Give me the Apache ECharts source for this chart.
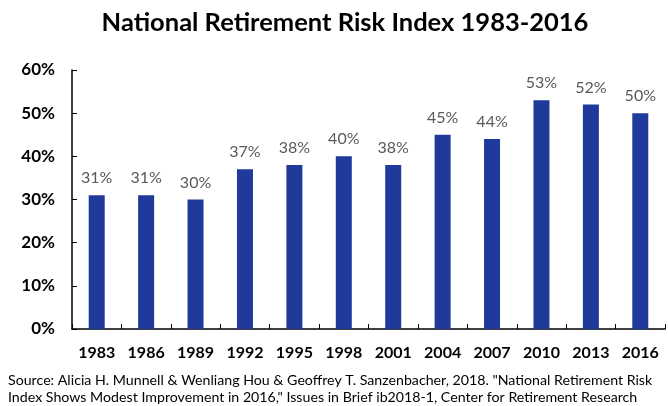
<!DOCTYPE html>
<html><head><meta charset="utf-8">
<script src="https://cdn.jsdelivr.net/npm/echarts@6/dist/echarts.min.js"></script>
<style>html,body{margin:0;padding:0;background:#fff}#c{width:668px;height:406px}</style>
</head><body><div id="c"></div>
<script>
const years = ['1983','1986','1989','1992','1995','1998','2001','2004','2007','2010','2013','2016'];
const riskIndex = [31,31,30,37,38,40,38,45,44,53,52,50];
const titleText = 'National Retirement Risk Index 1983-2016';
const sourceLines = [
  'Source: Alicia H. Munnell & Wenliang Hou & Geoffrey T. Sanzenbacher, 2018. "National Retirement Risk',
  'Index Shows Modest Improvement in 2016," Issues in Brief ib2018-1, Center for Retirement Research'
];
const font = 'Lato, "Open Sans", sans-serif';
const chart = echarts.init(document.getElementById('c'));
chart.setOption({
  animation: false,
  grid: { left: 72, right: 3, top: 70, bottom: 77 },
  xAxis: { type: 'category', data: years,
    axisLine: { lineStyle: { color: '#000', width: 1.5 } },
    axisTick: { show: true, inside: true, length: 5, lineStyle: { color: '#000' } },
    axisLabel: { color: '#000', fontWeight: 'bold', fontSize: 16, fontFamily: font, margin: 16 } },
  yAxis: { type: 'value', min: 0, max: 60, interval: 10,
    axisLine: { show: true, lineStyle: { color: '#000', width: 1.5 } },
    axisTick: { show: true, inside: true, length: 5, lineStyle: { color: '#000' } },
    splitLine: { show: false },
    axisLabel: { formatter: '{value}%', color: '#000', fontWeight: 'bold', fontSize: 17, fontFamily: font, margin: 17 } },
  series: [{ type: 'bar', data: riskIndex, barWidth: 16,
    itemStyle: { color: '#1F3A9A' },
    label: { show: true, position: 'top', distance: 9, formatter: '{c}%', color: '#595959', fontSize: 16, fontFamily: font } }],
  graphic: [
    { type: 'text', x: 345, y: 23,
      style: { text: titleText, textAlign: 'center', textVerticalAlign: 'middle', fontSize: 25.5, fontWeight: 'bold', fontFamily: font, fill: '#000' } }
  ].concat(sourceLines.map((t, i) => ({ type: 'text', x: 8, y: 380 + i * 17,
    style: { text: t, textVerticalAlign: 'middle', fontSize: 14.2, fontFamily: font, fill: '#000' } })))
});
</script></body></html>
